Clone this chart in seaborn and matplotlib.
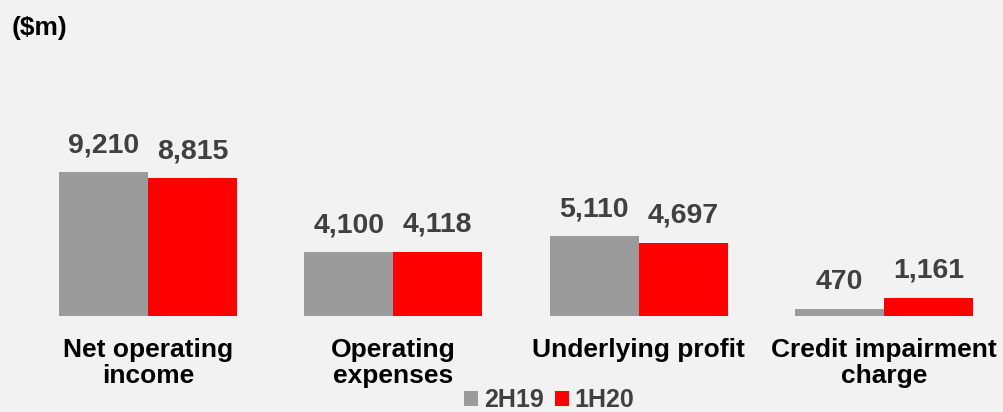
import numpy as np
import pandas as pd
import seaborn as sns
import matplotlib.pyplot as plt
from matplotlib.patches import Patch

categories = ['Net operating\nincome', 'Operating\nexpenses', 'Underlying profit', 'Credit impairment\ncharge']
periods = ['2H19', '1H20']
values_2h19 = [9210, 4100, 5110, 470]
values_1h20 = [8815, 4118, 4697, 1161]

gray = '#9b9b9b'
red = '#ff0000'
bg = '#f2f2f2'

df = pd.DataFrame({
    'category': categories * 2,
    'period': ['2H19'] * 4 + ['1H20'] * 4,
    'value': values_2h19 + values_1h20,
})

sns.set_style('white')
plt.rcParams['font.family'] = ['Liberation Sans', 'DejaVu Sans']

fig = plt.figure(figsize=(10.04, 4.12), dpi=100, facecolor=bg)
ax = fig.add_axes([0, 0, 1, 1])
ax.set_facecolor('none')

sns.barplot(data=df, x='category', y='value', hue='period', hue_order=periods,
            palette=[gray, red], width=0.7256, saturation=1, gap=0,
            linewidth=0, legend=False, ax=ax)

ax.set_xlim(-0.6033, 3.489)
ax.set_ylim(-6140, 20211)
ax.axis('off')

# value labels above the bars
for cont in ax.containers:
    ax.bar_label(cont, labels=[f'{v:,.0f}' for v in cont.datavalues], padding=10,
                 fontsize=20.5, fontweight='bold', color='#404040')

# category labels under the baseline
for i, cat in enumerate(categories):
    ax.annotate(cat, (i, 0), xytext=(0, -16), textcoords='offset points',
                ha='center', va='top', fontsize=19, fontweight='bold',
                color='#000000', linespacing=1.1)

fig.text(12 / 1004, 1 - 35 / 412, '($m)', fontsize=19, fontweight='bold',
         color='#000000', va='baseline', ha='left')

handles = [Patch(facecolor=gray, edgecolor='none', label='2H19'),
           Patch(facecolor=red, edgecolor='none', label='1H20')]
leg = fig.legend(handles=handles, loc='center', bbox_to_anchor=(0.547, 0.029),
                 ncol=2, frameon=False, fontsize=18, handlelength=0.56,
                 handleheight=0.56, handletextpad=0.24, columnspacing=0.44,
                 borderpad=0, borderaxespad=0)
for t in leg.get_texts():
    t.set_fontweight('bold')
    t.set_color('#404040')

fig.savefig('out.png', dpi=100, facecolor=bg)
